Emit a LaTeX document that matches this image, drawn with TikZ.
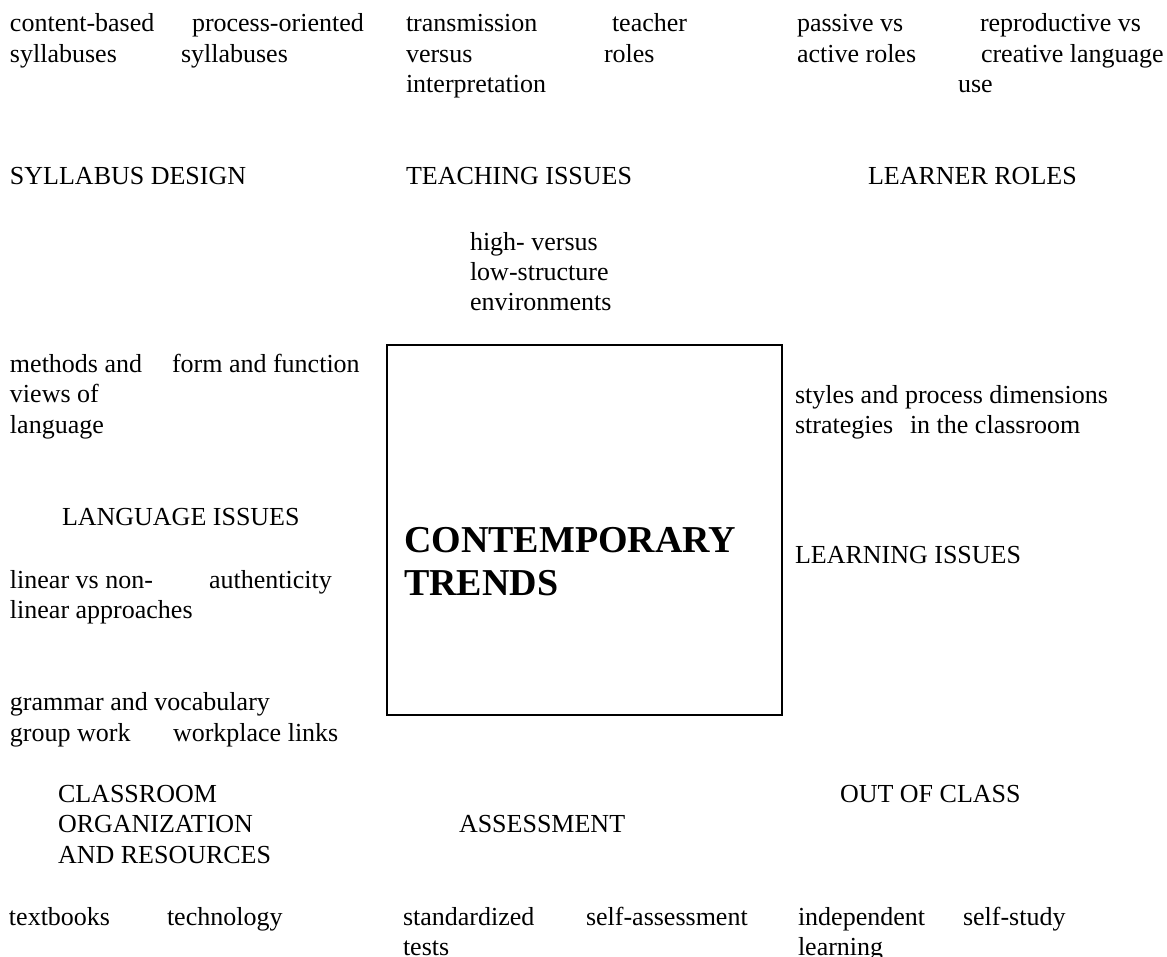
\documentclass[tikz,border=0pt]{standalone}
\usepackage{fontspec}
\setmainfont{Liberation Serif}
\usetikzlibrary{positioning}
\tikzset{
  txt/.style={inner sep=0pt, outer sep=0pt, anchor=base west, align=left,
    font=\fontsize{13}{15.25}\selectfont},
  trend/.style={txt, font=\fontsize{19}{21.5}\selectfont\bfseries},
  frame/.style={draw, line width=1.1pt}
}
\begin{document}
\begin{tikzpicture}[x=0.5pt, y=-0.5pt]
\useasboundingbox (0,0) rectangle (1167,957);
% multi-line nodes sit on the baseline of their last line
\node[txt] (cbased) at (10,62.5) {content-based\\syllabuses};
\node[txt] (porient) at (181,62.5) {\hspace*{5.5pt}process-oriented\\syllabuses};
\node[txt] (transm) at (406,93) {transmission\\versus\\interpretation};
\node[txt] (troles) at (604,62.5) {\hspace*{4pt}teacher\\roles};
\node[txt] (passive) at (797,62.5) {passive vs\\active roles};
\node[txt] (reprod) at (958,93) {\hspace*{11pt}reproductive vs\\\hspace*{11.5pt}creative language\\use};
\node[txt] (sylldes) at (10,185) {SYLLABUS DESIGN};
\node[txt] (teachiss) at (406,185) {TEACHING ISSUES};
\node[txt] (learnrol) at (868,185) {LEARNER ROLES};
\node[txt] (highlow) at (470,311) {high- versus\\low-structure\\environments};
\draw[frame] (387,345) rectangle (782,715);
\node[trend] (contemp) at (404,595) {CONTEMPORARY\\TRENDS};
\node[txt] (methods) at (10,433) {methods and\\views of\\language};
\node[txt] (formfun) at (172,372) {form and function};
\node[txt] (styles) at (795,433.5) {styles and\\strategies};
\node[txt] (procdim) at (905,433.5) {process dimensions\\\hspace*{2.5pt}in the classroom};
\node[txt] (langiss) at (62,525) {LANGUAGE ISSUES};
\node[txt] (learniss) at (795,563) {LEARNING ISSUES};
\node[txt] (linear) at (10,618.5) {linear vs non-\\linear approaches};
\node[txt] (authent) at (209,588) {authenticity};
\node[txt] (gramvoc) at (10,710) {grammar and vocabulary};
\node[txt] (groupw) at (10,741) {group work};
\node[txt] (workpl) at (173,741) {workplace links};
\node[txt] (classorg) at (58,863) {CLASSROOM\\ORGANIZATION\\AND RESOURCES};
\node[txt] (assess) at (459,832) {ASSESSMENT};
\node[txt] (outcls) at (840,802) {OUT OF CLASS};
\node[txt] (textb) at (9,925) {textbooks};
\node[txt] (techn) at (167,925) {technology};
\node[txt] (stand) at (403,955.5) {standardized\\tests};
\node[txt] (selfass) at (586,925) {self-assessment};
\node[txt] (indep) at (798,955.5) {independent\\learning};
\node[txt] (selfst) at (963,925) {self-study};
\end{tikzpicture}
\end{document}
